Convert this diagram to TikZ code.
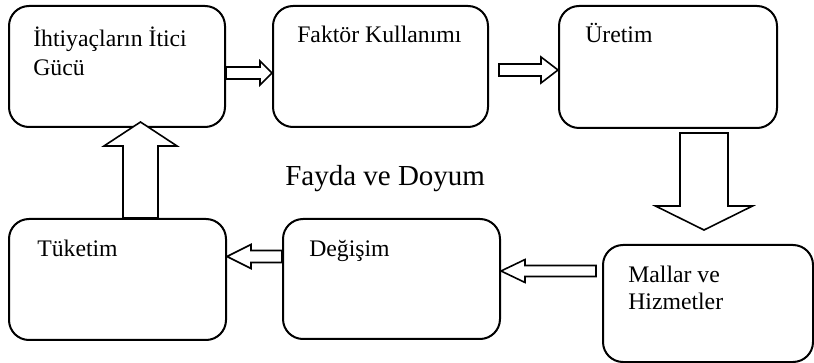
\documentclass[tikz,border=0pt]{standalone}
\usepackage{fontspec}
\setmainfont{Liberation Serif}
\usetikzlibrary{calc}
\tikzset{
  box/.style={draw=black, line width=1.5pt, rounded corners=15pt, anchor=north west, inner sep=0pt},
  blk/.style={draw=black, fill=white, line width=1.2pt, line join=miter},
  lbl/.style={anchor=base west, inner sep=0pt, font=\fontsize{17.8}{20}\selectfont},
  big/.style={anchor=base west, inner sep=0pt, font=\fontsize{21.75}{24}\selectfont}
}
% tail, tip, shaft half width, head half width, head length
\newcommand{\blockarrow}[5]{%
  \coordinate (ba-c) at ($(#2)!#5!(#1)$);
  \draw[blk] ($(#1)!#3!90:(#2)$) -- ($(ba-c)!#3!90:(#2)$) -- ($(ba-c)!#4!90:(#2)$)
    -- (#2) -- ($(ba-c)!#4!-90:(#2)$) -- ($(ba-c)!#3!-90:(#2)$) -- ($(#1)!#3!-90:(#2)$) -- cycle;
}
\begin{document}
\begin{tikzpicture}[x=0.75pt, y=-0.75pt]
\useasboundingbox (0,0) rectangle (814,363);
\fill[white] (0,0) rectangle (814,363);
% boxes
\node[box, minimum width=162pt, minimum height=90.75pt] (b1) at (8,5) {};
\node[box, minimum width=161.25pt, minimum height=90.75pt] (b2) at (272,5) {};
\node[box, minimum width=163.5pt, minimum height=91.5pt] (b3) at (558,5) {};
\node[box, minimum width=157.5pt, minimum height=87.75pt] (b4) at (602,244) {};
\node[box, minimum width=162.75pt, minimum height=90pt] (b5) at (282,218) {};
\node[box, minimum width=162.75pt, minimum height=90.75pt] (b6) at (8,218) {};
% texts
\node[lbl] (t1a) at (33,47) {İhtiyaçların İtici};
\node[lbl] (t1b) at (33,76) {Gücü};
\node[lbl] (t2) at (297,43) {Faktör Kullanımı};
\node[lbl] (t3) at (585,43) {Üretim};
\node[lbl] (t4a) at (628,283) {Mallar ve};
\node[lbl] (t4b) at (628,310) {Hizmetler};
\node[lbl] (t5) at (309,257) {Değişim};
\node[lbl] (t6) at (37,257) {Tüketim};
\node[big] (fd) at (285,186) {Fayda ve Doyum};
% arrow end points
\coordinate (a1s) at (b1.east |- {(0,73)});
\coordinate (a1e) at (b2.west |- {(0,73)});
\coordinate (a2s) at (499,70);
\coordinate (a2e) at (b3.west |- {(0,70)});
\coordinate (a3s) at (704,133);
\coordinate (a3e) at (704,230);
\coordinate (a4s) at (596,271);
\coordinate (a4e) at (b5.east |- {(0,271)});
\coordinate (a5s) at (b5.west |- {(0,256.5)});
\coordinate (a5e) at (b6.east |- {(0,256.5)});
\coordinate (a6s) at (b6.north -| {(140.5,0)});
\coordinate (a6e) at (140.5,122);
% block arrows
\blockarrow{a1s}{a1e}{4.5pt}{9pt}{9pt}
\blockarrow{a2s}{a2e}{4.5pt}{9.75pt}{12.75pt}
\blockarrow{a3s}{a3e}{18pt}{36.4pt}{18pt}
\blockarrow{a4s}{a4e}{4.1pt}{8.6pt}{18pt}
\blockarrow{a5s}{a5e}{4.5pt}{9pt}{18pt}
\blockarrow{a6s}{a6e}{13.1pt}{27.4pt}{18pt}
\end{tikzpicture}
\end{document}
